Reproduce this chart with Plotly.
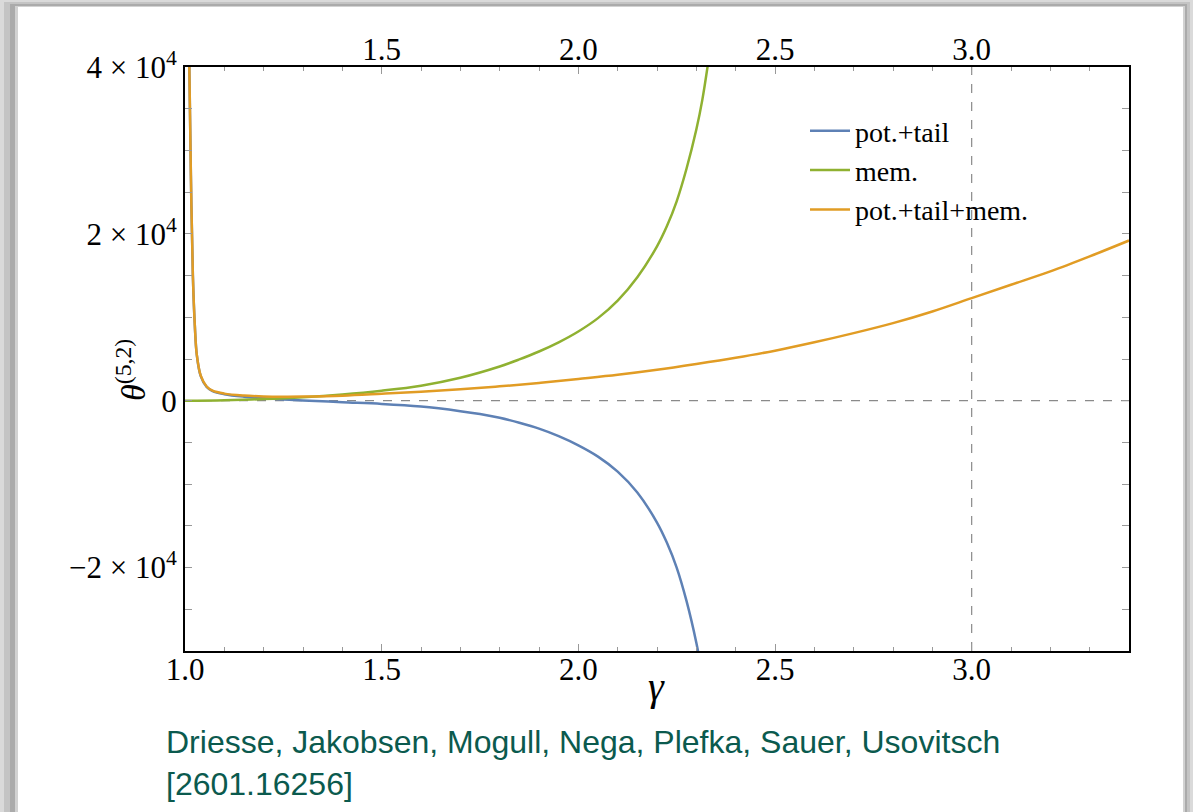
import plotly.graph_objects as go

# ---- data ----
x_pt = [1.011, 1.015, 1.02, 1.025, 1.03, 1.04, 1.055, 1.07, 1.1, 1.15, 1.2, 1.25, 1.3, 1.4, 1.5,
        1.6, 1.7, 1.75, 1.8, 1.85, 1.9, 1.95, 2.0, 2.05, 2.1, 2.15, 2.2, 2.225, 2.25, 2.275, 2.3, 2.31]
y_pt = [40000, 27000, 15000, 9000, 5500, 2950, 1650, 1150, 780, 480, 300, 150, 40, -180, -380,
        -700, -1250, -1600, -2050, -2650, -3350, -4250, -5350, -6700, -8500, -11000, -14600, -17000,
        -20000, -24000, -29000, -31500]

x_mem = [1.0, 1.1, 1.2, 1.3, 1.4, 1.5, 1.6, 1.7, 1.8, 1.85, 1.9, 1.95, 2.0, 2.05, 2.1, 2.15, 2.2,
         2.225, 2.25, 2.275, 2.3, 2.315, 2.33]
y_mem = [0, 60, 200, 420, 750, 1200, 1800, 2750, 4100, 4950, 5900, 7000, 8300, 9900, 12000, 14800,
         18500, 20900, 23900, 27800, 32500, 36000, 40500]

x_tot = [1.011, 1.015, 1.02, 1.025, 1.03, 1.04, 1.055, 1.07, 1.1, 1.15, 1.2, 1.25, 1.3, 1.4, 1.5,
         1.6, 1.7, 1.8, 1.9, 2.0, 2.1, 2.2, 2.3, 2.4, 2.5, 2.6, 2.7, 2.8, 2.9, 3.0, 3.1, 3.2, 3.3, 3.4]
y_tot = [40000, 27000, 15000, 9000, 5500, 3000, 1700, 1200, 850, 620, 520, 490, 500, 600, 830,
         1080, 1380, 1720, 2120, 2600, 3100, 3700, 4400, 5150, 6000, 7000, 8100, 9300, 10700, 12300,
         13900, 15500, 17300, 19200]

series_names = ["pot.+tail", "mem.", "pot.+tail+mem."]
series_colors = ["#5e81b5", "#8fb131", "#e19c24"]

x_ticks = [1.0, 1.5, 2.0, 2.5, 3.0]
x_ticklabels = ["1.0", "1.5", "2.0", "2.5", "3.0"]
x_top_ticks = [1.5, 2.0, 2.5, 3.0]
y_ticks = [-20000, 0, 20000, 40000]
y_ticklabels = ["−2 × 10<sup>4</sup>", "0", "2 × 10<sup>4</sup>", "4 × 10<sup>4</sup>"]

x_range = [1.0, 3.4]
y_range = [-30000, 40000]

citation = "Driesse, Jakobsen, Mogull, Nega, Plefka, Sauer, Usovitsch<br>[2601.16256]"

serif = "Liberation Serif, DejaVu Serif, serif"
sans = "Liberation Sans, Arial, sans-serif"

# plot-area pixel geometry (for placing paper-referenced items)
L, R, T, B = 185, 1129, 67, 651
W, H = R - L, B - T
def px(xp):
    return (xp - L) / W
def py(yp):
    return (B - yp) / H

fig = go.Figure()
for xs, ys, name, col in [(x_pt, y_pt, series_names[0], series_colors[0]),
                          (x_mem, y_mem, series_names[1], series_colors[1]),
                          (x_tot, y_tot, series_names[2], series_colors[2])]:
    fig.add_trace(go.Scatter(x=xs, y=ys, name=name, mode="lines",
                             line=dict(color=col, width=2.5, shape="spline", smoothing=1.0)))

# invisible trace for top axis
fig.add_trace(go.Scatter(x=x_range, y=[None, None], xaxis="x2", showlegend=False, hoverinfo="skip"))

shapes = [
    # slide shadow and white slide
    dict(type="rect", xref="paper", yref="paper", x0=px(0), x1=px(1193), y0=py(830), y1=py(0),
         fillcolor="#dadada", line=dict(width=0), layer="below"),
    dict(type="rect", xref="paper", yref="paper", x0=px(4), x1=px(1190), y0=py(830), y1=py(2),
         fillcolor="#c4c4c4", line=dict(width=0), layer="below"),
    dict(type="rect", xref="paper", yref="paper", x0=px(10), x1=px(1187), y0=py(830), y1=py(4),
         fillcolor="#ababab", line=dict(width=0), layer="below"),
    dict(type="rect", xref="paper", yref="paper", x0=px(15), x1=px(1185), y0=py(830), y1=py(6),
         fillcolor="#d2d2d2", line=dict(width=0), layer="below"),
    dict(type="rect", xref="paper", yref="paper", x0=px(18), x1=px(1183), y0=py(830), y1=py(7),
         fillcolor="white", line=dict(width=0), layer="below"),
    # dashed reference lines
    dict(type="line", xref="x", yref="y", x0=x_range[0], x1=x_range[1], y0=0, y1=0,
         line=dict(color="#8a8a8a", width=1.2, dash="dash"), layer="below"),
    dict(type="line", xref="x", yref="y", x0=3.0, x1=3.0, y0=y_range[0], y1=y_range[1],
         line=dict(color="#8a8a8a", width=1.2, dash="dash"), layer="below"),
]

axis_common = dict(
    showline=True, linecolor="black", linewidth=2,
    ticks="inside", tickcolor="#999999", ticklen=7, tickwidth=1,
    showgrid=False, zeroline=False,
    tickfont=dict(family=serif, size=31, color="black"),
)

fig.update_layout(
    width=1193, height=812,
    margin=dict(l=L, r=1193 - R, t=T, b=812 - B),
    paper_bgcolor="#dcdcdc",
    plot_bgcolor="rgba(0,0,0,0)",
    shapes=shapes,
    showlegend=True,
    legend=dict(x=px(805), y=py(106), xanchor="left", yanchor="top",
                font=dict(family=serif, size=28, color="black"),
                bgcolor="rgba(0,0,0,0)", tracegroupgap=0, itemwidth=40),
    xaxis=dict(range=x_range, tickvals=x_ticks, ticktext=x_ticklabels, mirror=True,
               ticklabelstandoff=-10,
               minor=dict(ticks="inside", dtick=0.1, ticklen=4, tickcolor="#999999"),
               **axis_common),
    xaxis2=dict(range=x_range, overlaying="x", side="top", tickvals=x_top_ticks,
                ticktext=[f"{v:.1f}" for v in x_top_ticks], anchor="y",
                ticklabelstandoff=-7,
                minor=dict(ticks="inside", dtick=0.1, ticklen=4, tickcolor="#999999"),
                **axis_common),
    yaxis=dict(range=y_range, tickvals=y_ticks, ticktext=y_ticklabels, mirror="allticks",
               minor=dict(ticks="inside", dtick=5000, ticklen=4, tickcolor="#999999"),
               **axis_common),
    annotations=[
        dict(text="<i>γ</i>", xref="paper", yref="paper", x=px(656), y=py(686),
             xanchor="center", yanchor="middle", showarrow=False,
             font=dict(family=serif, size=40, color="black")),
        dict(text="<i>θ</i><sup>(5,2)</sup>", xref="paper", yref="paper", x=px(131), y=py(370),
             xanchor="center", yanchor="middle", showarrow=False, textangle=-90,
             font=dict(family=serif, size=34, color="black")),
        dict(text=citation, xref="paper", yref="paper", x=px(164), y=py(722),
             xanchor="left", yanchor="top", align="left", showarrow=False,
             font=dict(family=sans, size=32, color="#0b5a4e")),
    ],
)

fig.write_html("out.html", post_script="document.body.style.margin='0';",
               config={"displayModeBar": False})
